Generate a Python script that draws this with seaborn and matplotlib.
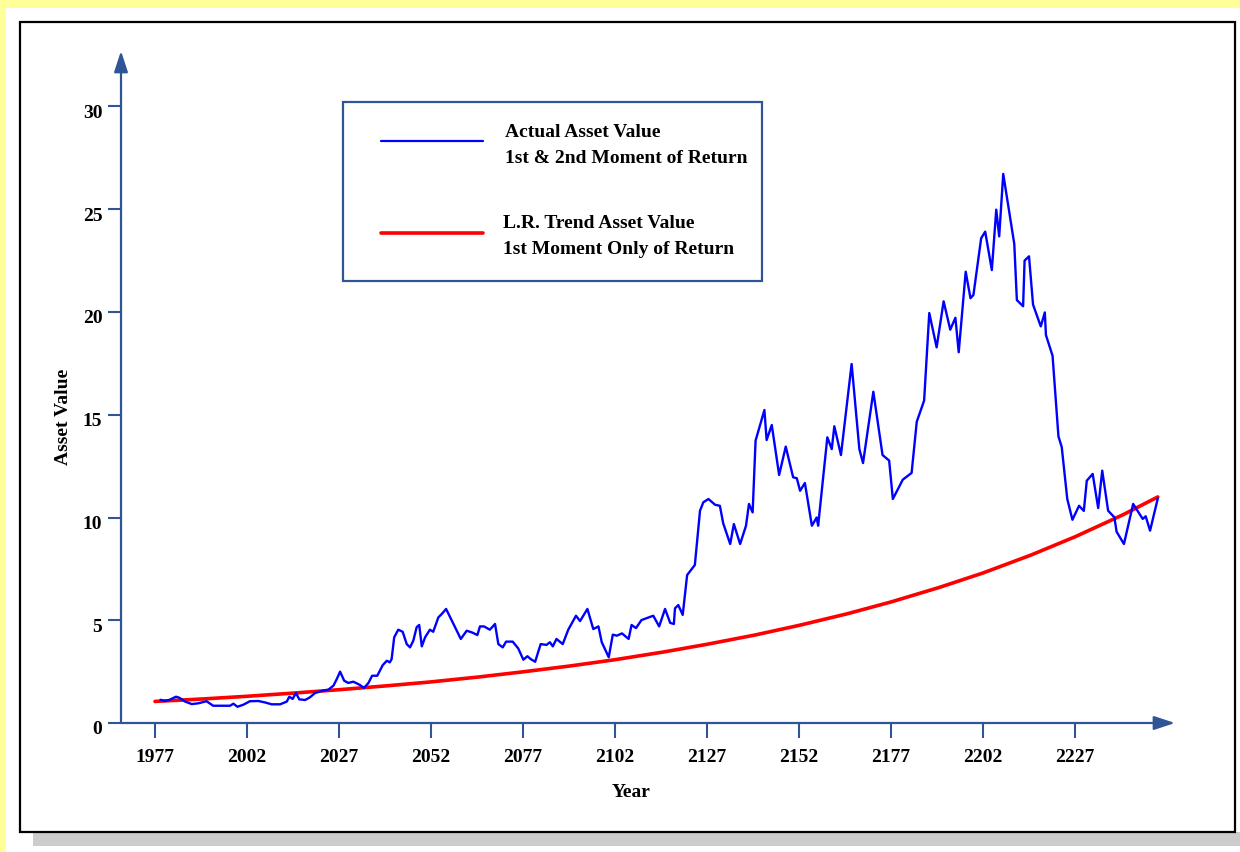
import matplotlib
matplotlib.use("Agg")
import matplotlib.pyplot as plt
import matplotlib.transforms as mtransforms
from matplotlib.patches import Rectangle
from matplotlib.lines import Line2D
import seaborn as sns
import pandas as pd

# ---------------- data ----------------
actual_years = [
    1978.5, 1979.7, 1981.0, 1982.7, 1983.6, 1985.2, 1987.0, 1988.8, 1991.0, 1992.8,
    1995.0, 1997.4, 1998.3, 1999.4, 2001.0, 2002.8, 2005.1, 2006.9, 2008.7, 2011.0,
    2012.8, 2013.5, 2014.4, 2015.3, 2016.2, 2017.8, 2019.1, 2020.5, 2022.3, 2024.1,
    2025.5, 2026.4, 2027.3, 2028.4, 2029.5, 2030.9, 2032.7, 2033.8, 2035.0, 2036.0,
    2037.4, 2038.9, 2040.0, 2040.8, 2041.3, 2042.0, 2043.1, 2044.3, 2045.4, 2046.3,
    2047.2, 2048.1, 2048.8, 2049.5, 2050.4, 2051.7, 2052.6, 2054.0, 2054.9, 2056.1,
    2058.1, 2060.1, 2061.7, 2063.1, 2064.6, 2065.3, 2066.4, 2068.0, 2069.4, 2070.3,
    2071.5, 2072.4, 2074.2, 2075.7, 2077.1, 2078.2, 2079.1, 2080.3, 2081.8, 2083.4,
    2084.3, 2085.1, 2086.1, 2087.8, 2089.3, 2091.4, 2092.5, 2094.5, 2096.1, 2097.5,
    2098.4, 2100.3, 2101.4, 2102.5, 2103.9, 2105.7, 2106.5, 2107.7, 2109.2, 2112.4,
    2114.0, 2115.6, 2117.0, 2118.0, 2118.3, 2119.2, 2120.4, 2121.6, 2123.7, 2125.1,
    2126.0, 2127.4, 2129.2, 2130.5, 2131.4, 2133.3, 2134.3, 2136.0, 2137.6, 2138.4,
    2139.4, 2140.2, 2142.6, 2143.2, 2144.6, 2146.6, 2148.4, 2150.4, 2151.4, 2152.3,
    2153.6, 2155.5, 2156.8, 2157.2, 2159.7, 2160.9, 2161.6, 2163.4, 2166.3, 2168.4,
    2169.4, 2172.2, 2174.7, 2176.5, 2177.5, 2180.2, 2182.6, 2184.0, 2186.0, 2187.4,
    2189.4, 2191.3, 2193.1, 2194.5, 2195.4, 2197.3, 2198.6, 2199.4, 2201.5, 2202.6,
    2204.4, 2205.6, 2206.4, 2207.5, 2210.5, 2211.2, 2212.9, 2213.3, 2214.5, 2215.6,
    2217.7, 2218.8, 2219.1, 2220.9, 2222.5, 2223.4, 2224.9, 2226.3, 2228.1, 2229.4,
    2230.2, 2231.8, 2233.3, 2234.4, 2236.0, 2237.7, 2238.3, 2240.3, 2242.8, 2245.4,
    2246.2, 2247.4, 2249.5,
]
actual_values = [
    1.13, 1.07, 1.13, 1.28, 1.23, 1.04, 0.92, 0.96, 1.06, 0.84,
    0.84, 0.84, 0.94, 0.79, 0.89, 1.06, 1.07, 1.00, 0.91, 0.91,
    1.04, 1.28, 1.17, 1.46, 1.15, 1.12, 1.25, 1.46, 1.56, 1.62,
    1.82, 2.14, 2.50, 2.06, 1.95, 2.01, 1.85, 1.70, 1.95, 2.30,
    2.30, 2.82, 3.03, 2.95, 3.11, 4.17, 4.54, 4.44, 3.84, 3.68,
    4.01, 4.66, 4.77, 3.73, 4.17, 4.54, 4.44, 5.14, 5.30, 5.55,
    4.82, 4.09, 4.49, 4.41, 4.28, 4.70, 4.70, 4.54, 4.82, 3.84,
    3.68, 3.96, 3.96, 3.63, 3.08, 3.25, 3.11, 2.98, 3.84, 3.80,
    3.93, 3.73, 4.09, 3.84, 4.54, 5.22, 4.96, 5.55, 4.57, 4.70,
    3.93, 3.20, 4.30, 4.25, 4.36, 4.09, 4.77, 4.62, 5.01, 5.22,
    4.70, 5.55, 4.87, 4.82, 5.58, 5.74, 5.26, 7.20, 7.69, 10.33,
    10.74, 10.90, 10.62, 10.57, 9.72, 8.71, 9.68, 8.71, 9.60, 10.66,
    10.25, 13.74, 15.23, 13.77, 14.50, 12.07, 13.45, 11.96, 11.91, 11.30,
    11.68, 9.60, 10.00, 9.60, 13.90, 13.33, 14.44, 13.04, 17.47, 13.33,
    12.65, 16.12, 13.04, 12.77, 10.90, 11.84, 12.17, 14.66, 15.69, 19.95,
    18.28, 20.52, 19.14, 19.72, 18.04, 21.96, 20.67, 20.83, 23.59, 23.91,
    22.04, 24.98, 23.68, 26.72, 23.31, 20.58, 20.28, 22.50, 22.71, 20.36,
    19.30, 19.98, 18.88, 17.87, 13.95, 13.42, 10.90, 9.89, 10.57, 10.32,
    11.79, 12.12, 10.46, 12.28, 10.33, 10.01, 9.31, 8.71, 10.66, 9.93,
    10.06, 9.36, 10.93,
]

trend_years = [1977, 1990, 2002, 2015, 2027, 2040, 2052, 2065, 2077, 2090, 2102,
               2115, 2127, 2140, 2152, 2165, 2177, 2190, 2202, 2215, 2227, 2240, 2249.5]
trend_values = [1.05, 1.17, 1.30, 1.46, 1.62, 1.81, 2.00, 2.24, 2.49, 2.78, 3.08,
                3.45, 3.83, 4.28, 4.75, 5.31, 5.89, 6.59, 7.30, 8.17, 9.06, 10.13, 11.00]

x_ticks = [1977, 2002, 2027, 2052, 2077, 2102, 2127, 2152, 2177, 2202, 2227]
y_ticks = [0, 5, 10, 15, 20, 25, 30]

legend_labels = [("Actual Asset Value", "1st & 2nd Moment of Return"),
                 ("L.R. Trend Asset Value", "1st Moment Only of Return")]

# ---------------- styling ----------------
sns.set_theme(style="white")
plt.rcParams["font.family"] = ["Liberation Serif", "DejaVu Serif"]
plt.rcParams["font.weight"] = "bold"

W, H = 1240, 853
AX = "#2F5597"
BLUE = "#0000FF"
RED = "#FF0000"


def fx(px):
    return px / W


def fy(py):
    return 1 - py / H


fig = plt.figure(figsize=(W / 100, H / 100), dpi=100)
fig.patch.set_facecolor("#FFFF99")

# background panels
fig.add_artist(Rectangle((fx(6), 0), 1 - fx(6), fy(9), transform=fig.transFigure,
                         facecolor="white", edgecolor="none", zorder=-20))
fig.add_artist(Rectangle((fx(33), fy(847)), 1 - fx(33), fy(833) - fy(847),
                         transform=fig.transFigure, facecolor="#CCCCCC",
                         edgecolor="none", zorder=-19))
fig.add_artist(Rectangle((fx(20), fy(833)), fx(1235) - fx(20), fy(23) - fy(833),
                         transform=fig.transFigure, facecolor="white",
                         edgecolor="black", linewidth=1.6, zorder=-18))

ax = fig.add_axes([fx(121), fy(724), fx(1175) - fx(121), fy(52) - fy(724)])
ax.set_facecolor("none")

df_actual = pd.DataFrame({"Year": actual_years, "Asset Value": actual_values})
df_trend = pd.DataFrame({"Year": trend_years, "Asset Value": trend_values})

sns.lineplot(data=df_trend, x="Year", y="Asset Value", ax=ax, color=RED,
             linewidth=2.6, estimator=None, legend=False, zorder=3)
sns.lineplot(data=df_actual, x="Year", y="Asset Value", ax=ax, color=BLUE,
             linewidth=1.7, estimator=None, legend=False, zorder=4)

x0 = 1977 - (155 - 121) / 3.68
x1 = 1977 + (1175 - 155) / 3.68
ax.set_xlim(x0, x1)
ax.set_ylim(0, (724 - 52) / 20.55)

for s in ax.spines.values():
    s.set_visible(False)

arrow_style = "-|>,head_length=0.85,head_width=0.28"
ax.annotate("", xy=(1, 0), xytext=(0, 0), xycoords="axes fraction",
            arrowprops=dict(arrowstyle=arrow_style, mutation_scale=15, color=AX,
                            lw=1.6, shrinkA=0, shrinkB=0))
ax.annotate("", xy=(0, 1), xytext=(0, 0), xycoords="axes fraction",
            arrowprops=dict(arrowstyle=arrow_style, mutation_scale=15, color=AX,
                            lw=1.6, shrinkA=0, shrinkB=0))

ax.set_xticks(x_ticks)
ax.set_xticklabels([str(t) for t in x_ticks])
ax.set_yticks(y_ticks)
ax.set_yticklabels([str(t) for t in y_ticks])
ax.tick_params(axis="x", direction="out", length=11, width=1.5, color=AX, pad=7,
               labelsize=14, bottom=True)
ax.tick_params(axis="y", direction="out", length=9.4, width=1.5, color=AX, pad=4,
               labelsize=14, left=True)
for lab in ax.get_xticklabels() + ax.get_yticklabels():
    lab.set_fontweight("bold")
    lab.set_color("black")

# y tick labels sit a few pixels below their ticks in the reference
down = mtransforms.ScaledTranslation(0, -4 / 100, fig.dpi_scale_trans)
for tick in ax.yaxis.get_major_ticks():
    tick.label1.set_transform(tick.label1.get_transform() + down)

ax.set_xlabel("Year", fontsize=14, fontweight="bold", color="black", labelpad=13)
ax.set_ylabel("Asset Value", fontsize=14, fontweight="bold", color="black", labelpad=8)
ax.xaxis.label.set_x((631 - 121) / (1175 - 121))
ax.yaxis.label.set_y((724 - 417) / (724 - 52))

# legend box
fig.add_artist(Rectangle((fx(343), fy(282)), fx(762) - fx(343), fy(103) - fy(282),
                         transform=fig.transFigure, facecolor="white",
                         edgecolor=AX, linewidth=1.6, zorder=10))
fig.add_artist(Line2D([fx(381), fx(483)], [fy(142), fy(142)], transform=fig.transFigure,
                      color=BLUE, linewidth=1.6, zorder=11))
fig.add_artist(Line2D([fx(381), fx(483)], [fy(233.5), fy(233.5)], transform=fig.transFigure,
                      color=RED, linewidth=2.6, zorder=11))
for (l1, l2), xl, yb in zip(legend_labels, [505, 503], [136.7, 228.3]):
    fig.text(fx(xl), fy(yb), l1, ha="left", va="baseline", fontsize=14,
             fontweight="bold", color="black", zorder=12)
    fig.text(fx(xl), fy(yb + 26), l2, ha="left", va="baseline", fontsize=14,
             fontweight="bold", color="black", zorder=12)

fig.savefig("out.png", dpi=100, facecolor=fig.get_facecolor())
